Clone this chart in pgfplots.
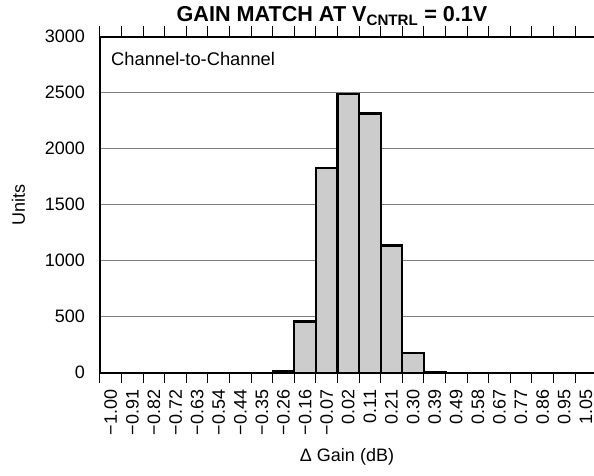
\documentclass[border=0pt]{standalone}
\usepackage{fontspec}
\setmainfont{Liberation Sans}
\usepackage{pgfplots}
\pgfplotsset{compat=1.18}
\begin{document}
\begin{tikzpicture}
\begin{axis}[
  at={(0pt,0pt)}, anchor=south west,
  scale only axis,
  width=496.6pt, height=336pt,
  xmin=0, xmax=23, ymin=0, ymax=3000,
  axis line style={line width=2.4pt, black},
  /pgf/number format/assume math mode=true,
  tick label style={font=\fontsize{18}{20}\selectfont},
  ytick={0,500,1000,1500,2000,2500,3000},
  yticklabels={0,500,1000,1500,2000,2500,3000},
  yticklabel style={anchor=east, xshift=-11.6pt},
  xtick={0.5,1.5,...,22.5},
  xticklabels={−1.00,−0.91,−0.82,−0.72,−0.63,−0.54,−0.44,−0.35,−0.26,−0.16,−0.07,0.02,0.11,0.21,0.30,0.39,0.49,0.58,0.67,0.77,0.86,0.95,1.05},
  xticklabel style={yshift=-13.6pt, rotate=90, anchor=east, inner ysep=0.5pt},
  minor xtick={0,1,...,23},
  tick align=outside,
  major tick length=0pt,
  minor tick length=10.5pt,
  minor tick style={line width=1pt, black},
  ymajorgrids,
  major grid style={line width=1pt, gray},
  ybar, bar width=1, bar shift=0pt,
]
\addplot[fill=gray!40, draw=black, line width=2.2pt] coordinates {
(0.5,0) (1.5,0) (2.5,0) (3.5,0) (4.5,0) (5.5,0) (6.5,0) (7.5,0)
(8.5,18) (9.5,457) (10.5,1830) (11.5,2490) (12.5,2315) (13.5,1135)
(14.5,175) (15.5,6) (16.5,0) (17.5,0) (18.5,0) (19.5,0) (20.5,0) (21.5,0) (22.5,0)
};
\end{axis}
\node[anchor=base west, inner sep=0pt, font=\fontsize{18.3}{20}\selectfont] at (11pt,307.7pt) {Channel-to-Channel};
\node[anchor=base, inner sep=0pt, font=\fontsize{21.6}{24}\selectfont\bfseries] at (232pt,351pt) {GAIN MATCH AT V\textsubscript{CNTRL} = 0.1V};
\node[anchor=base, inner sep=0pt, font=\fontsize{18}{20}\selectfont] at (247pt,-89pt) {Δ Gain (dB)};
\node[anchor=base, rotate=90, inner sep=0pt, font=\fontsize{18}{20}\selectfont] at (-75pt,168pt) {Units};
\pgfresetboundingbox
\path[use as bounding box] (-100pt,-102.3pt) rectangle (494pt,372.7pt);
\end{tikzpicture}
\end{document}
